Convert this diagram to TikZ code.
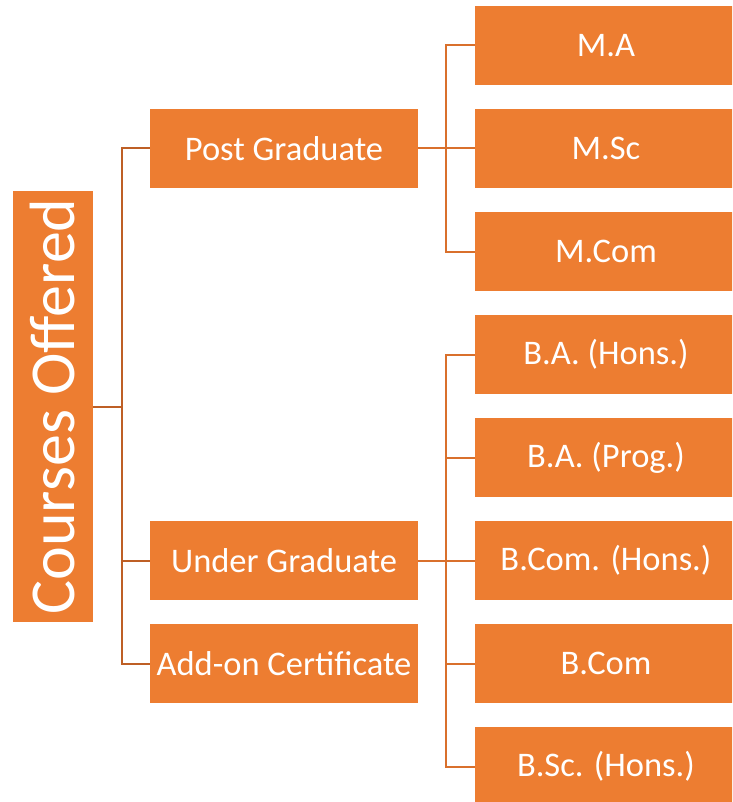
\documentclass[tikz,border=0pt]{standalone}
\usepackage{fontspec}
\setmainfont{Carlito}
\definecolor{boxorange}{HTML}{ED7D31}
\definecolor{linedark}{HTML}{BE5F25}
\definecolor{lineorange}{HTML}{D9702C}
\begin{document}
\begin{tikzpicture}[x=1pt,y=-1pt,
  course/.style={fill=boxorange,text=white,inner sep=0pt,font=\fontsize{34.5}{34.5}\selectfont},
  level/.style={course,minimum width=268pt,minimum height=79pt},
  prog/.style={course,minimum width=262pt,minimum height=79pt},
  trunk/.style={draw=linedark,line width=2pt},
  branch/.style={draw=lineorange,line width=2pt}]
\useasboundingbox (0,0) rectangle (732,802);
\clip (0,0) rectangle (732,802);
\node[course,rotate=90,minimum width=431pt,minimum height=80pt,font=\fontsize{64}{64}\selectfont] (root) at (53,406.5) {Courses Offered};
\node[level] (pg) at (284,148.5) {Post Graduate};
\node[level] (ug) at (284,560.5) {Under Graduate};
\node[level] (addon) at (284,663.5) {Add-on Certificate};
\node[prog] (ma) at (606,45.5) {M.A};
\node[prog] (msc) at (606,148.5) {M.Sc};
\node[prog] (mcom) at (606,251.5) {M.Com};
\node[prog] (bah) at (606,354.5) {B.A. (Hons.)};
\node[prog] (bap) at (606,457.5) {B.A. (Prog.)};
\node[prog] (bcomh) at (606,560.5) {B.Com. (Hons.)};
\node[prog] (bcom) at (606,663.5) {B.Com};
\node[prog] (bsch) at (606,766.5) {B.Sc. (Hons.)};
% first level
\coordinate (r) at (122,406.5);
\path[trunk] (root.south) -- (r);
\path[trunk] (r) |- (pg.west);
\path[trunk] (r) |- (ug.west);
\path[trunk] (r) |- (addon.west);
% post graduate
\coordinate (p) at (446,148.5);
\path[branch] (pg.east) -- (p);
\path[branch] (p) |- (ma.west);
\path[branch] (p) |- (msc.west);
\path[branch] (p) |- (mcom.west);
% under graduate
\coordinate (u) at (446,560.5);
\path[branch] (ug.east) -- (u);
\path[branch] (u) |- (bah.west);
\path[branch] (u) |- (bap.west);
\path[branch] (u) |- (bcomh.west);
\path[branch] (u) |- (bcom.west);
\path[branch] (u) |- (bsch.west);
\end{tikzpicture}
\end{document}
